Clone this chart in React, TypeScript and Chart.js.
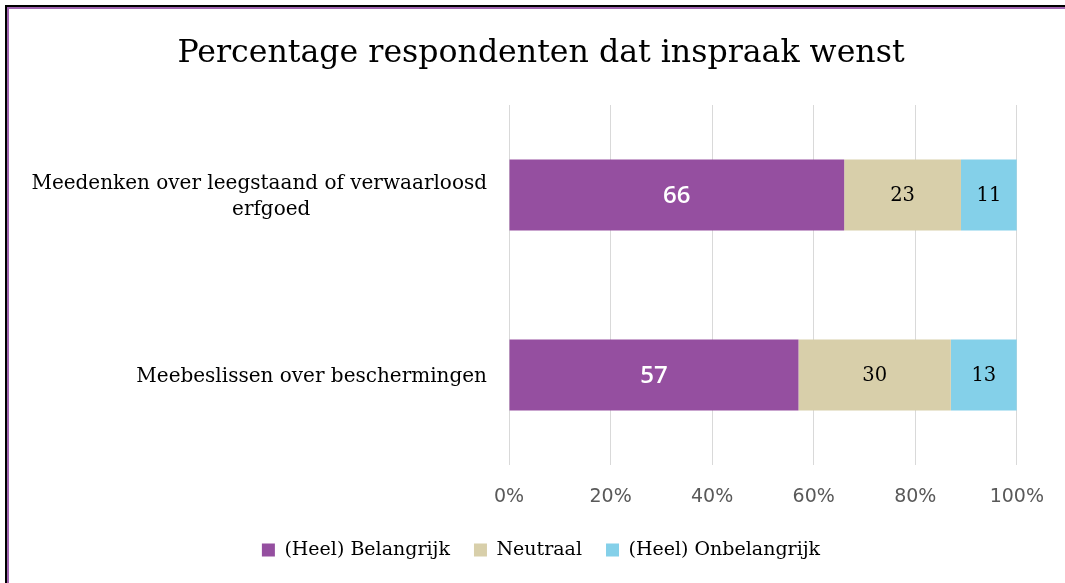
import React, { useEffect, useRef } from "react";
import { Chart, registerables } from "chart.js";
Chart.register(...registerables);

const titleText = "Percentage respondenten dat inspraak wenst";
const categories = [["Meedenken over leegstaand of verwaarloosd", "erfgoed"], ["Meebeslissen over beschermingen"]];
const seriesNames = ["(Heel) Belangrijk", "Neutraal", "(Heel) Onbelangrijk"];
const belangrijk = [66, 57];
const neutraal = [23, 30];
const onbelangrijk = [11, 13];
const seriesColors = ["#954FA0", "#D8CFAA", "#84D0E9"];
const labelColors = ["#FFFFFF", "#000000", "#000000"];
const xMin = 0;
const xMax = 100;
const xStep = 20;

const SERIF = "'DejaVu Serif', serif";
const SANS = "'DejaVu Sans', sans-serif";

const yLabelPlugin = {
  id: "yLabels",
  afterDraw(chart: any) {
    const ctx = chart.ctx;
    const y = chart.scales.y;
    ctx.save();
    ctx.font = `20px ${SERIF}`;
    ctx.fillStyle = "#000";
    ctx.textBaseline = "middle";
    ctx.textAlign = "center";
    categories.forEach((lines, i) => {
      const cy = y.getPixelForValue(i);
      const widths = lines.map((l) => ctx.measureText(l).width);
      const maxW = Math.max(...widths);
      const right = chart.chartArea.left - 22;
      const cx = right - maxW / 2;
      const lh = 26;
      const start = cy - ((lines.length - 1) * lh) / 2 + 2;
      lines.forEach((l, j) => ctx.fillText(l, cx + (j > 0 ? 12 : 0), start + j * lh));
    });
    ctx.restore();
  },
};

const dataLabelPlugin = {
  id: "dataLabels",
  afterDatasetsDraw(chart: any) {
    const ctx = chart.ctx;
    ctx.save();
    ctx.textAlign = "center";
    ctx.textBaseline = "middle";
    chart.data.datasets.forEach((ds: any, di: number) => {
      const meta = chart.getDatasetMeta(di);
      meta.data.forEach((el: any, i: number) => {
        const v = ds.data[i];
        const cx = (el.x + el.base) / 2;
        if (di === 0) {
          ctx.font = `600 24px 'Open Sans', sans-serif`;
        } else {
          ctx.font = `19.5px ${SERIF}`;
        }
        ctx.fillStyle = labelColors[di];
        ctx.fillText(String(v), cx, el.y + 1);
      });
    });
    ctx.restore();
  },
};

export default function App() {
  const ref = useRef<HTMLCanvasElement | null>(null);
  useEffect(() => {
    if (!ref.current) return;
    const seriesData = [belangrijk, neutraal, onbelangrijk];
    const chart = new Chart(ref.current, {
      type: "bar",
      data: {
        labels: categories as any,
        datasets: seriesNames.map((name, i) => ({
          label: name,
          data: seriesData[i],
          backgroundColor: seriesColors[i],
          borderWidth: 0,
          categoryPercentage: 1,
          barPercentage: 0.395,
        })),
      },
      options: {
        indexAxis: "y",
        animation: false,
        responsive: false,
        devicePixelRatio: 1,
        layout: { padding: { left: 60, right: 43, top: 0, bottom: 13.5 } },
        scales: {
          x: {
            stacked: true,
            min: xMin,
            max: xMax,
            ticks: {
              stepSize: xStep,
              callback: (v: any) => v + "%",
              font: { family: SANS, size: 19 },
              color: "#595959",
              padding: 21,
            },
            grid: { color: "#D9D9D9", drawTicks: false, lineWidth: 1 },
            border: { display: false },
            afterFit: (s: any) => {
              s.height = 51.5;
            },
          },
          y: {
            stacked: true,
            ticks: { display: false },
            grid: { display: false },
            border: { display: false },
            afterFit: (s: any) => {
              s.width = 449;
            },
          },
        },
        plugins: {
          title: {
            display: true,
            text: titleText,
            color: "#000",
            font: { family: SERIF, size: 31.6, weight: "normal", lineHeight: 1.2 },
            padding: { top: 34.5, bottom: 32.6 },
          },
          legend: {
            position: "bottom",
            labels: {
              boxWidth: 13,
              boxHeight: 13,
              padding: 24,
              color: "#000",
              font: { family: SERIF, size: 19 },
            },
          },
          tooltip: { enabled: false },
        },
      },
      plugins: [yLabelPlugin, dataLabelPlugin],
    });
    return () => chart.destroy();
  }, []);
  return (
    <div style={{ position: "fixed", left: 0, top: 0, width: 1065, height: 583, background: "#fff" }}>
      <canvas ref={ref} width={1065} height={583} style={{ position: "absolute", left: 0, top: 0, width: 1065, height: 583 }} />
      <div style={{ position: "absolute", left: 5, top: 5, right: 0, bottom: 0, borderLeft: "2px solid #000", borderTop: "2px solid #000", pointerEvents: "none" }} />
      <div style={{ position: "absolute", left: 7, top: 7, right: 0, bottom: 0, borderLeft: "2px solid #A064B0", borderTop: "2px solid #A064B0", pointerEvents: "none" }} />
    </div>
  );
}
